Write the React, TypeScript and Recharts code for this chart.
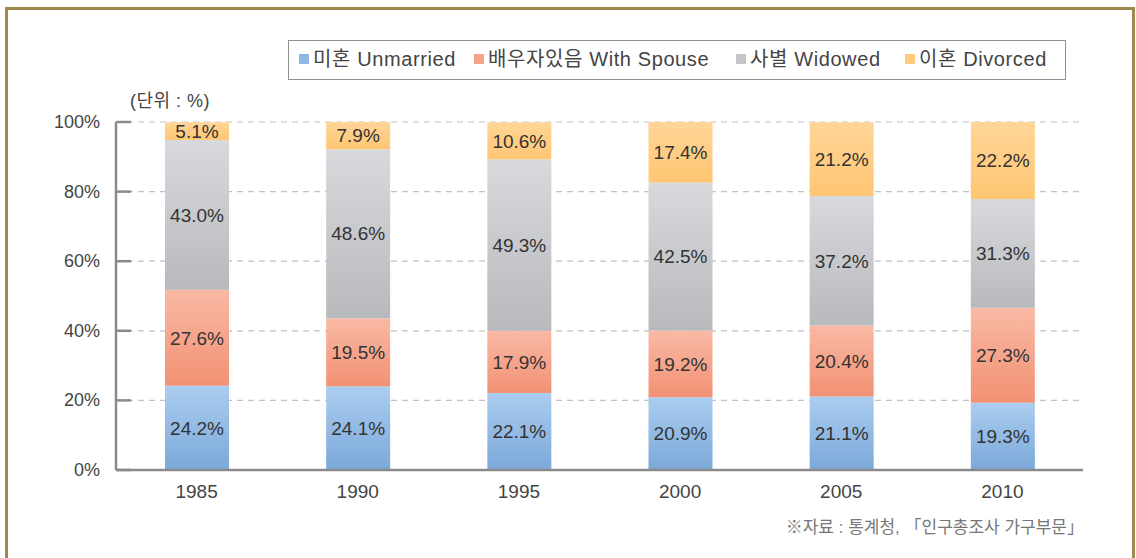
import { BarChart, Bar, XAxis, YAxis, CartesianGrid, LabelList } from "recharts";

const years = ["1985", "1990", "1995", "2000", "2005", "2010"];
const unmarried = [24.2, 24.1, 22.1, 20.9, 21.1, 19.3];
const withSpouse = [27.6, 19.5, 17.9, 19.2, 20.4, 27.3];
const widowed = [43.0, 48.6, 49.3, 42.5, 37.2, 31.3];
const divorced = [5.1, 7.9, 10.6, 17.4, 21.2, 22.2];
const yTicks = [0, 20, 40, 60, 80, 100];

const seriesNames = ["미혼 Unmarried", "배우자있음 With Spouse", "사별 Widowed", "이혼 Divorced"];

const data = years.map((year, i) => ({
  year,
  unmarried: unmarried[i],
  withSpouse: withSpouse[i],
  widowed: widowed[i],
  divorced: divorced[i],
}));

const FONT = "'Liberation Sans', 'Noto Sans CJK KR', Arial, sans-serif";
const AXIS_X = 116;
const AXIS_COLOR = "#8a8a8a";

const legendItems = [
  { name: seriesNames[0], color: "#8fb7e3", left: 10 },
  { name: seriesNames[1], color: "#f4a288", left: 185 },
  { name: seriesNames[2], color: "#c4c5c8", left: 447 },
  { name: seriesNames[3], color: "#ffca7c", left: 616 },
];

const YTick = (props: any) => {
  const { y, payload } = props;
  return (
    <g>
      <line x1={AXIS_X} x2={AXIS_X + 15} y1={y} y2={y} stroke={AXIS_COLOR} strokeWidth={2.5} />
      <text x={100} y={y} dy={6} textAnchor="end" fontSize={18} fill="#444" fontFamily={FONT}>
        {payload.value}%
      </text>
    </g>
  );
};

const fmt = (v: any) => `${Number(v).toFixed(1)}%`;

export default function App() {
  return (
    <div
      style={{
        position: "absolute",
        left: 0,
        top: 0,
        width: 1136,
        height: 558,
        overflow: "hidden",
        background: "#fff",
        fontFamily: FONT,
      }}
    >
      <div
        style={{
          position: "absolute",
          left: 5,
          top: 7,
          width: 1124,
          height: 600,
          border: "3px solid #9e8a4a",
        }}
      />

      <BarChart
        width={1136}
        height={558}
        data={data}
        margin={{ top: 122, right: 53, bottom: 58, left: 0 }}
        barSize={64}
        style={{ position: "absolute", left: 0, top: 0 }}
      >
        <defs>
          <linearGradient id="gBlue" x1="0" y1="0" x2="0" y2="1">
            <stop offset="0%" stopColor="#abcdf0" />
            <stop offset="100%" stopColor="#7ba8d9" />
          </linearGradient>
          <linearGradient id="gSalmon" x1="0" y1="0" x2="0" y2="1">
            <stop offset="0%" stopColor="#f9b9a5" />
            <stop offset="100%" stopColor="#f29173" />
          </linearGradient>
          <linearGradient id="gGray" x1="0" y1="0" x2="0" y2="1">
            <stop offset="0%" stopColor="#d8d9dc" />
            <stop offset="100%" stopColor="#b8b9bc" />
          </linearGradient>
          <linearGradient id="gOrange" x1="0" y1="0" x2="0" y2="1">
            <stop offset="0%" stopColor="#ffd597" />
            <stop offset="100%" stopColor="#ffc673" />
          </linearGradient>
        </defs>
        <CartesianGrid vertical={false} stroke="#c2c2c2" strokeDasharray="6 5" strokeWidth={1.2} />
        <XAxis
          dataKey="year"
          tickLine={false}
          axisLine={{ stroke: AXIS_COLOR, strokeWidth: 2.5 }}
          tick={{ fontSize: 19, fill: "#444", fontFamily: FONT }}
          tickMargin={9}
        />
        <YAxis
          width={116}
          domain={[0, 100]}
          ticks={yTicks}
          allowDataOverflow
          tickLine={false}
          axisLine={{ stroke: AXIS_COLOR, strokeWidth: 2.5 }}
          tick={<YTick />}
        />
        <Bar dataKey="unmarried" stackId="a" fill="url(#gBlue)" isAnimationActive={false}>
          <LabelList dataKey="unmarried" position="center" formatter={fmt} fill="#333" fontSize={19} fontFamily={FONT} />
        </Bar>
        <Bar dataKey="withSpouse" stackId="a" fill="url(#gSalmon)" isAnimationActive={false}>
          <LabelList dataKey="withSpouse" position="center" formatter={fmt} fill="#333" fontSize={19} fontFamily={FONT} />
        </Bar>
        <Bar dataKey="widowed" stackId="a" fill="url(#gGray)" isAnimationActive={false}>
          <LabelList dataKey="widowed" position="center" formatter={fmt} fill="#333" fontSize={19} fontFamily={FONT} />
        </Bar>
        <Bar dataKey="divorced" stackId="a" fill="url(#gOrange)" isAnimationActive={false}>
          <LabelList dataKey="divorced" position="center" formatter={fmt} fill="#333" fontSize={19} fontFamily={FONT} />
        </Bar>
      </BarChart>

      <div
        style={{
          position: "absolute",
          left: 288,
          top: 40,
          width: 776,
          height: 38,
          border: "1.5px solid #8f8f8f",
          background: "#fff",
        }}
      >
        {legendItems.map((item) => (
          <div
            key={item.name}
            style={{
              position: "absolute",
              left: item.left,
              top: -3,
              height: 38,
              display: "flex",
              alignItems: "center",
              whiteSpace: "nowrap",
              fontSize: 20,
              letterSpacing: 0.6,
              color: "#444",
            }}
          >
            <span style={{ display: "inline-block", width: 10, height: 10, background: item.color, marginRight: 4, marginTop: 3 }} />
            {item.name}
          </div>
        ))}
      </div>

      <div style={{ position: "absolute", left: 130, top: 86, fontSize: 18, color: "#444", whiteSpace: "nowrap", letterSpacing: 0.5 }}>
        (단위 : %)
      </div>

      <div
        style={{
          position: "absolute",
          right: 1136 - 1084,
          top: 513,
          fontSize: 17,
          color: "#777",
          whiteSpace: "nowrap",
        }}
      >
        ※자료 : 통계청, 「인구총조사 가구부문」
      </div>
    </div>
  );
}
